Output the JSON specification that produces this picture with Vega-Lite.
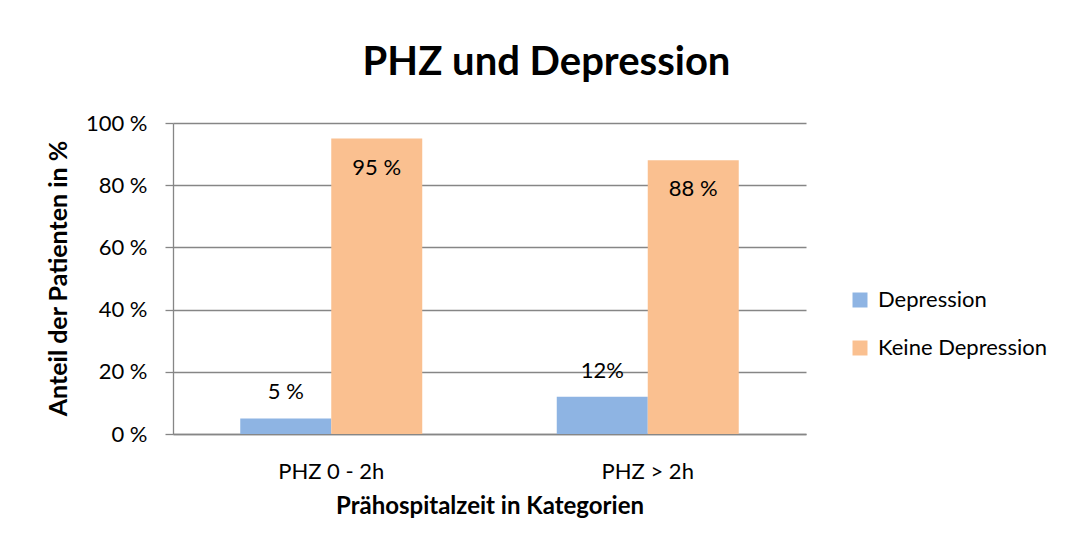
{
  "$schema": "https://vega.github.io/schema/vega-lite/v6.json",
  "autosize": "none",
  "width": 633,
  "height": 311,
  "padding": {"left": 173, "top": 123, "right": 273, "bottom": 120},
  "background": "white",
  "title": {
    "text": "PHZ und Depression",
    "font": "Lato",
    "fontSize": 40,
    "fontWeight": "bold",
    "color": "black",
    "anchor": "middle",
    "frame": "group",
    "baseline": "alphabetic",
    "dx": 57,
    "offset": -3
  },
  "data": {
    "values": [
      {"PHZ": "PHZ 0 - 2h", "Gruppe": "Depression", "Anteil": 5, "Label": "5 %"},
      {"PHZ": "PHZ 0 - 2h", "Gruppe": "Keine Depression", "Anteil": 95, "Label": "95 %"},
      {"PHZ": "PHZ > 2h", "Gruppe": "Depression", "Anteil": 12, "Label": "12%"},
      {"PHZ": "PHZ > 2h", "Gruppe": "Keine Depression", "Anteil": 88, "Label": "88 %"}
    ]
  },
  "encoding": {
    "x": {
      "field": "PHZ",
      "type": "nominal",
      "sort": ["PHZ 0 - 2h", "PHZ > 2h"],
      "scale": {"paddingInner": 0.425, "paddingOuter": 0.2125},
      "axis": {
        "title": "Prähospitalzeit in Kategorien",
        "labelAngle": 0,
        "ticks": false,
        "labelBaseline": "alphabetic",
        "labelPadding": 44,
        "titleFontWeight": "bold",
        "titleFontSize": 24,
        "titleX": 316.5,
        "titleY": 79,
        "titleAlign": "center",
        "titleBaseline": "alphabetic"
      }
    },
    "xOffset": {"field": "Gruppe", "type": "nominal", "sort": ["Depression", "Keine Depression"], "scale": {"paddingInner": 0, "paddingOuter": 0}},
    "y": {
      "field": "Anteil",
      "type": "quantitative",
      "scale": {"domain": [0, 100]},
      "axis": {
        "title": "Anteil  der Patienten in %",
        "values": [0, 20, 40, 60, 80, 100],
        "labelExpr": "datum.value + ' %'",
        "tickSize": 8,
        "labelPadding": 18,
        "grid": true,
        "titleFontWeight": "bold",
        "titleFontSize": 25,
        "titleX": -107,
        "titleY": 155,
        "titleAlign": "center",
        "titleBaseline": "alphabetic",
        "titleAngle": -90
      }
    }
  },
  "layer": [
    {
      "mark": {"type": "bar"},
      "encoding": {
        "color": {
          "field": "Gruppe",
          "type": "nominal",
          "scale": {"domain": ["Depression", "Keine Depression"], "range": ["#8EB4E3", "#FAC090"]},
          "legend": {
            "title": null,
            "orient": "none",
            "legendX": 676,
            "legendY": 166,
            "symbolType": "square",
            "symbolSize": 225,
            "symbolStrokeWidth": 0,
            "labelFont": "Lato",
            "labelFontSize": 22,
            "labelColor": "black",
            "labelOffset": 7,
            "labelLimit": 300,
            "rowPadding": 26,
            "padding": 0
          }
        }
      }
    },
    {
      "transform": [{"filter": "datum.Gruppe === 'Depression'"}],
      "mark": {"type": "text", "baseline": "middle", "dy": -26, "font": "Lato", "fontSize": 22, "color": "black"},
      "encoding": {"text": {"field": "Label"}}
    },
    {
      "transform": [{"filter": "datum.Gruppe === 'Keine Depression'"}],
      "mark": {"type": "text", "baseline": "middle", "dy": 29, "font": "Lato", "fontSize": 22, "color": "black"},
      "encoding": {"text": {"field": "Label"}}
    }
  ],
  "config": {
    "view": {"stroke": null},
    "axis": {
      "domainColor": "#868686",
      "gridColor": "#868686",
      "tickColor": "#868686",
      "domainWidth": 1.3,
      "gridWidth": 1.3,
      "tickWidth": 1.3,
      "labelColor": "black",
      "labelFont": "Lato",
      "labelFontSize": 22,
      "titleColor": "black",
      "titleFont": "Lato"
    }
  }
}
